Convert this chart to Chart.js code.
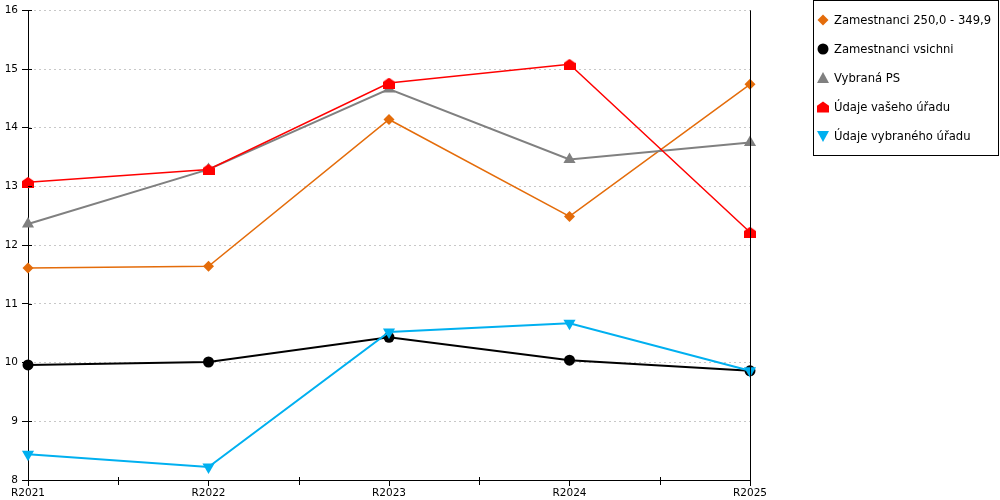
<!DOCTYPE html>
<html><head><meta charset="utf-8">
<script src="https://cdn.jsdelivr.net/npm/chart.js@4/dist/chart.umd.min.js"></script>
<style>html,body{margin:0;padding:0;background:#fff}#wrap{width:1000px;height:500px;position:relative}</style>
</head><body><div id="wrap"><canvas id="c" width="1000" height="500"></canvas></div>
<script>
const categories = ['R2021', 'R2022', 'R2023', 'R2024', 'R2025'];
const seriesNames = ['Zamestnanci 250,0 - 349,9', 'Zamestnanci vsichni', 'Vybraná PS', 'Údaje vašeho úřadu', 'Údaje vybraného úřadu'];
const zam250 = [11.61, 11.64, 14.14, 12.49, 14.74];
const zamAll = [9.96, 10.01, 10.43, 10.04, 9.86];
const vybranaPS = [12.36, 13.29, 14.66, 13.46, 13.75];
const vasUrad = [13.07, 13.29, 14.76, 15.08, 12.22];
const vybranyUrad = [8.44, 8.22, 10.52, 10.67, 9.86];
const yMin = 8, yMax = 16, yStep = 1;

const C_OR = '#E46C0A', C_BK = '#000000', C_GR = '#808080', C_RD = '#FF0000', C_BL = '#00B0F0';
const FONT = "'DejaVu Sans', Verdana, sans-serif";

function housePath(ctx, cx, cy, w, h) {
  const l = cx - w / 2, t = cy - h / 2;
  ctx.beginPath();
  ctx.moveTo(cx, t);
  ctx.lineTo(l + w, t + h * 0.38);
  ctx.lineTo(l + w, t + h);
  ctx.lineTo(l, t + h);
  ctx.lineTo(l, t + h * 0.38);
  ctx.closePath();
}
const houseImg = document.createElement('canvas');
houseImg.width = 12; houseImg.height = 11;
(function () { const g = houseImg.getContext('2d'); g.fillStyle = C_RD; housePath(g, 6, 5.5, 12, 11); g.fill(); })();

function ds(label, data, color, width, style, radius, rot, order) {
  return { label, data, borderColor: color, backgroundColor: color, borderWidth: width,
    pointStyle: style, pointRadius: radius, pointHoverRadius: radius, pointRotation: rot || 0,
    pointBorderWidth: 0, tension: 0, clip: false, order };
}

function drawMarker(ctx, kind, x, y) {
  ctx.save();
  if (kind === 0) { ctx.fillStyle = C_OR; ctx.beginPath(); ctx.moveTo(x, y - 5.5); ctx.lineTo(x + 5.5, y); ctx.lineTo(x, y + 5.5); ctx.lineTo(x - 5.5, y); ctx.closePath(); ctx.fill(); }
  if (kind === 1) { ctx.fillStyle = C_BK; ctx.beginPath(); ctx.arc(x, y, 5.5, 0, Math.PI * 2); ctx.fill(); }
  if (kind === 2) { ctx.fillStyle = C_GR; ctx.beginPath(); ctx.moveTo(x, y - 6); ctx.lineTo(x + 6, y + 5); ctx.lineTo(x - 6, y + 5); ctx.closePath(); ctx.fill(); }
  if (kind === 3) { ctx.fillStyle = C_RD; housePath(ctx, x, y, 12, 11); ctx.fill(); }
  if (kind === 4) { ctx.fillStyle = C_BL; ctx.beginPath(); ctx.moveTo(x - 6, y - 5); ctx.lineTo(x + 6, y - 5); ctx.lineTo(x, y + 6); ctx.closePath(); ctx.fill(); }
  ctx.restore();
}

const extras = {
  id: 'extras',
  afterDraw(chart) {
    const ctx = chart.ctx, a = chart.chartArea, xs = chart.scales.x, ys = chart.scales.y;
    ctx.save();
    ctx.strokeStyle = '#000'; ctx.lineWidth = 1;
    // right frame line
    const rx = Math.round(a.right) + 0.5;
    ctx.beginPath(); ctx.moveTo(rx, a.top); ctx.lineTo(rx, a.bottom); ctx.stroke();
    // mid-category ticks
    for (let i = 0; i < categories.length - 1; i++) {
      const px = Math.round((xs.getPixelForValue(i) + xs.getPixelForValue(i + 1)) / 2) + 0.5;
      ctx.beginPath(); ctx.moveTo(px, a.bottom - 3); ctx.lineTo(px, a.bottom + 5); ctx.stroke();
    }
    // inner part of y ticks
    ys.ticks.forEach((t) => {
      const py = Math.round(ys.getPixelForValue(t.value)) + 0.5;
      ctx.beginPath(); ctx.moveTo(a.left, py); ctx.lineTo(a.left + 4, py); ctx.stroke();
    });
    // legend
    ctx.strokeRect(813.5, 0.5, 185, 155);
    ctx.font = '11.6px ' + FONT; ctx.fillStyle = '#000'; ctx.textBaseline = 'middle'; ctx.textAlign = 'left';
    const rows = [20, 49, 78, 107, 136];
    seriesNames.forEach((n, i) => { drawMarker(ctx, i, 823, rows[i]); ctx.fillText(n, 834, rows[i] + 1); });
    ctx.restore();
  }
};

new Chart(document.getElementById('c'), {
  type: 'line',
  data: {
    labels: categories,
    datasets: [
      ds(seriesNames[0], zam250, C_OR, 1.5, 'rectRot', 5.5, 0, 5),
      ds(seriesNames[1], zamAll, C_BK, 2, 'circle', 5.5, 0, 4),
      ds(seriesNames[2], vybranaPS, C_GR, 2, 'triangle', 7, 0, 3),
      ds(seriesNames[3], vasUrad, C_RD, 1.5, houseImg, 6, 0, 2),
      ds(seriesNames[4], vybranyUrad, C_BL, 2, 'triangle', 7, 180, 1)
    ]
  },
  options: {
    responsive: false, animation: false, devicePixelRatio: 1,
    layout: { padding: { top: 10, right: 250, left: 0, bottom: 0 } },
    plugins: { legend: { display: false }, tooltip: { enabled: false } },
    scales: {
      x: {
        offset: false,
        grid: { drawOnChartArea: false, tickLength: 6, tickColor: '#000' },
        border: { color: '#000', width: 1 },
        ticks: { color: '#000', font: { family: FONT, size: 10.5 }, padding: 1, maxRotation: 0, autoSkip: false },
        afterFit(s) { s.height = 20; }
      },
      y: {
        min: yMin, max: yMax,
        grid: { color: '#c8c8c8', tickColor: '#000', tickLength: 6, drawTicks: true },
        border: { color: '#000', width: 1, dash: [2, 3] },
        ticks: { stepSize: yStep, color: '#000', font: { family: FONT, size: 10.5 }, padding: 4 },
        afterFit(s) { s.width = 28; }
      }
    }
  },
  plugins: [extras]
});
</script></body></html>
